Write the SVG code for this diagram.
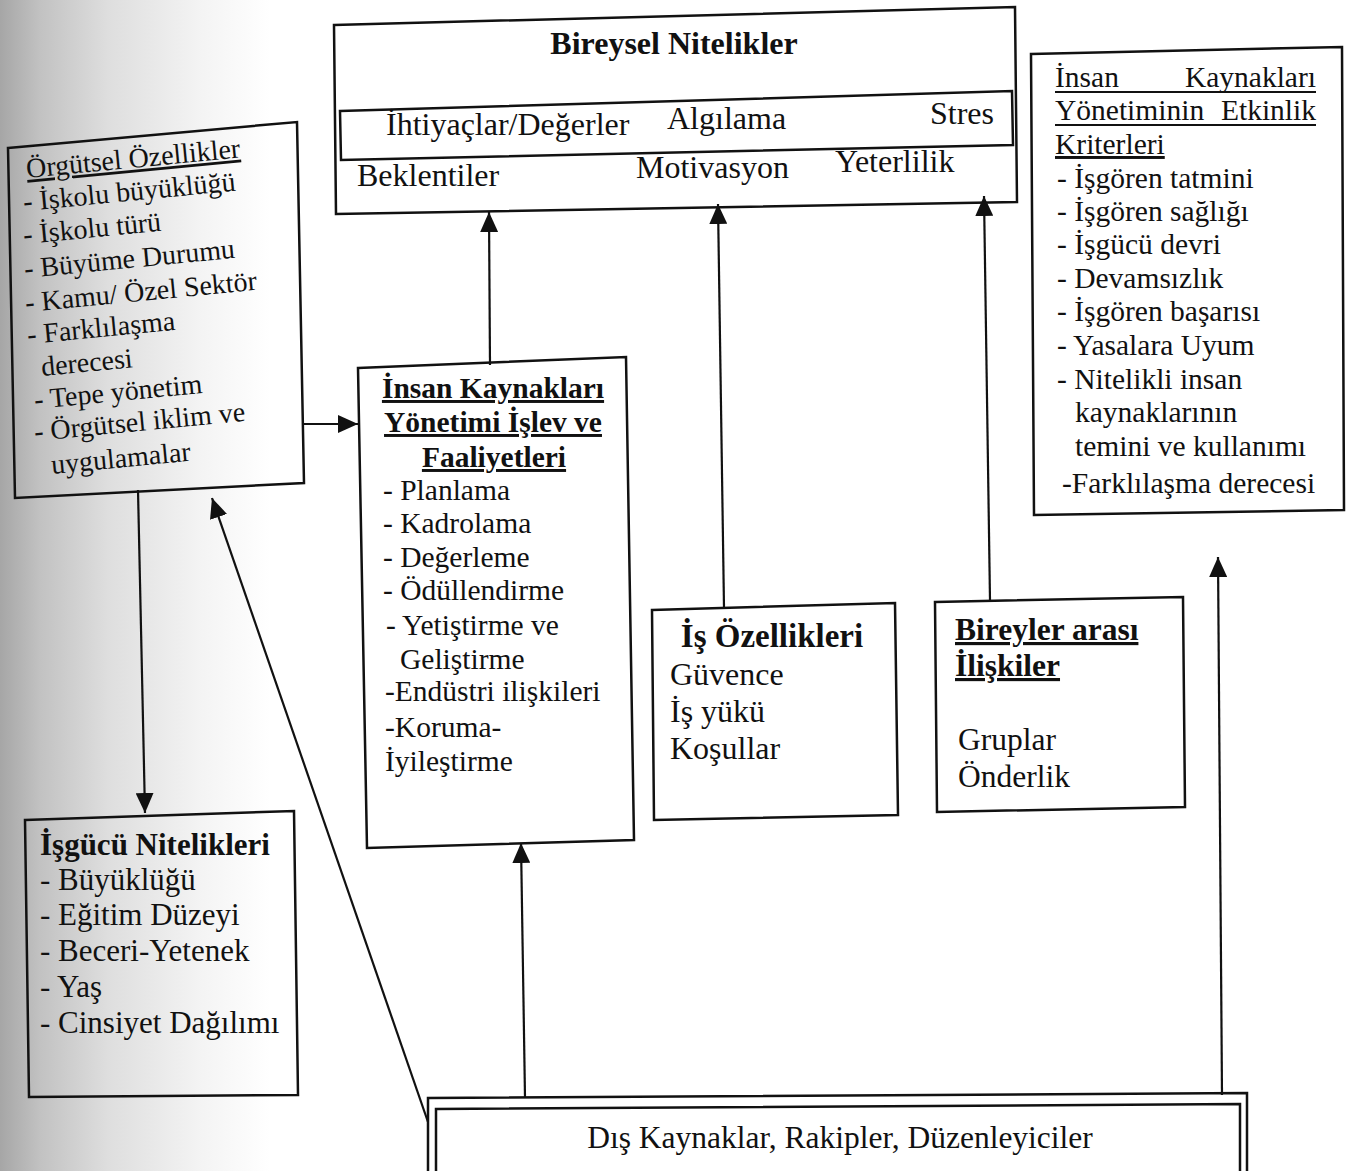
<svg xmlns="http://www.w3.org/2000/svg" width="1351" height="1171" viewBox="0 0 1351 1171">
<style>
text{font-family:"Liberation Serif","Times New Roman",serif;fill:#111}
.b{font-weight:bold}
.u{text-decoration:underline}
.box{fill:none;stroke:#111;stroke-width:2.5;stroke-linejoin:miter}
.con{stroke:#111;stroke-width:2.2;fill:none}
.ul{stroke:#111;stroke-width:2}
</style>
<defs>
<linearGradient id="bg" x1="0" y1="0" x2="1" y2="0">
<stop offset="0" stop-color="#a6a6a6"/>
<stop offset="0.03" stop-color="#c2c2c2"/>
<stop offset="0.08" stop-color="#dedede"/>
<stop offset="0.15" stop-color="#f4f4f4"/>
<stop offset="0.2" stop-color="#ffffff"/>
<stop offset="1" stop-color="#ffffff"/>
</linearGradient>
<marker id="ah" viewBox="0 0 20 18" markerUnits="userSpaceOnUse" markerWidth="20" markerHeight="18" refX="20" refY="9" orient="auto">
<path d="M0,0 L20,9 L0,18 z" fill="#111"/>
</marker>
</defs>
<rect x="0" y="0" width="1351" height="1171" fill="url(#bg)"/>

<g id="connectors">
<line class="con" x1="304" y1="424" x2="358" y2="424" marker-end="url(#ah)"/>
<line class="con" x1="138" y1="490" x2="145" y2="813" marker-end="url(#ah)"/>
<line class="con" x1="428" y1="1122" x2="212" y2="498" marker-end="url(#ah)"/>
<line class="con" x1="525" y1="1097" x2="521" y2="843" marker-end="url(#ah)"/>
<line class="con" x1="490" y1="365" x2="489" y2="212" marker-end="url(#ah)"/>
<line class="con" x1="724" y1="608" x2="718" y2="204" marker-end="url(#ah)"/>
<line class="con" x1="990" y1="600" x2="984" y2="196" marker-end="url(#ah)"/>
<line class="con" x1="1222" y1="1095" x2="1218" y2="557" marker-end="url(#ah)"/>
</g>

<g id="bireysel" font-size="32">
<polygon class="box" points="334,25 1015,7 1017,202 336,214"/>
<polygon class="box" points="340,111 1012,91 1013,145 341,160"/>
<text class="b" x="674" y="54" text-anchor="middle">Bireysel Nitelikler</text>
<text x="386" y="135">İhtiyaçlar/Değerler</text>
<text x="667" y="129">Algılama</text>
<text x="930" y="124">Stres</text>
<text x="357" y="186">Beklentiler</text>
<text x="636" y="178">Motivasyon</text>
<text x="835" y="172">Yeterlilik</text>
</g>

<g id="orgutsel" font-size="28">
<polygon class="box" points="8,148 297,122 304,483 15,498"/>
<text class="u" x="27" y="178" transform="rotate(-5.5 27 178)">Örgütsel Özellikler</text>
<text x="24" y="211" transform="rotate(-5.5 24 211)">- İşkolu büyüklüğü</text>
<text x="24" y="244" transform="rotate(-5.5 24 244)">- İşkolu türü</text>
<text x="25" y="278" transform="rotate(-5.5 25 278)">- Büyüme Durumu</text>
<text x="26" y="312" transform="rotate(-5.5 26 312)">- Kamu/ Özel Sektör</text>
<text x="28" y="344" transform="rotate(-5.5 28 344)">- Farklılaşma</text>
<text x="42" y="376" transform="rotate(-5.5 42 376)">derecesi</text>
<text x="35" y="409" transform="rotate(-5.5 35 409)">- Tepe yönetim</text>
<text x="35" y="441" transform="rotate(-5.5 35 441)">- Örgütsel iklim ve</text>
<text x="52" y="474" transform="rotate(-5.5 52 474)">uygulamalar</text>
</g>

<g id="ik-islev" font-size="29.5">
<polygon class="box" points="358,368 626,357 634,840 367,848"/>
<text class="b u" x="493" y="398" text-anchor="middle">İnsan Kaynakları</text>
<text class="b u" x="493" y="432" text-anchor="middle">Yönetimi İşlev ve</text>
<text class="b u" x="494" y="467" text-anchor="middle">Faaliyetleri</text>
<text x="383" y="500">- Planlama</text>
<text x="383" y="533">- Kadrolama</text>
<text x="383" y="567">- Değerleme</text>
<text x="383" y="600">- Ödüllendirme</text>
<text x="386" y="635">- Yetiştirme ve</text>
<text x="400" y="669">Geliştirme</text>
<text x="385" y="701">-Endüstri ilişkileri</text>
<text x="385" y="737">-Koruma-</text>
<text x="385" y="771">İyileştirme</text>
</g>

<g id="is-ozellikleri" font-size="32">
<polygon class="box" points="652,610 895,603 898,815 654,820"/>
<text class="b" x="772" y="647" text-anchor="middle" font-size="33">İş Özellikleri</text>
<text x="670" y="685">Güvence</text>
<text x="670" y="722">İş yükü</text>
<text x="670" y="759">Koşullar</text>
</g>

<g id="bireyler-arasi" font-size="31.5">
<polygon class="box" points="935,602 1183,597 1185,807 937,812"/>
<text class="b u" x="955" y="640">Bireyler arası</text>
<text class="b u" x="955" y="676">İlişkiler</text>
<text x="958" y="750">Gruplar</text>
<text x="958" y="787">Önderlik</text>
</g>

<g id="kriterler" font-size="29.5">
<polygon class="box" points="1031,54 1342,47 1344,510 1034,515"/>
<text x="1055" y="87">İnsan</text>
<text x="1316" y="87" text-anchor="end">Kaynakları</text>
<line class="ul" x1="1055" y1="92" x2="1316" y2="92"/>
<text x="1055" y="120">Yönetiminin</text>
<text x="1316" y="120" text-anchor="end">Etkinlik</text>
<line class="ul" x1="1055" y1="125" x2="1316" y2="125"/>
<text class="u" x="1055" y="154">Kriterleri</text>
<text x="1057" y="188">- İşgören tatmini</text>
<text x="1057" y="221">- İşgören sağlığı</text>
<text x="1057" y="254">- İşgücü devri</text>
<text x="1057" y="288">- Devamsızlık</text>
<text x="1057" y="321">- İşgören başarısı</text>
<text x="1057" y="355">- Yasalara Uyum</text>
<text x="1057" y="389">- Nitelikli insan</text>
<text x="1075" y="422">kaynaklarının</text>
<text x="1075" y="456">temini ve kullanımı</text>
<text x="1062" y="493">-Farklılaşma derecesi</text>
</g>

<g id="isgucu" font-size="31">
<polygon class="box" points="25,820 294,811 298,1095 29,1097"/>
<text class="b" x="40" y="855">İşgücü Nitelikleri</text>
<text x="40" y="890">- Büyüklüğü</text>
<text x="40" y="925">- Eğitim Düzeyi</text>
<text x="40" y="961">- Beceri-Yetenek</text>
<text x="40" y="997">- Yaş</text>
<text x="40" y="1033">- Cinsiyet Dağılımı</text>
</g>

<g id="dis-kaynaklar" font-size="31.5">
<polyline class="box" points="428,1175 428,1098 1247,1093 1247,1175"/>
<polyline class="box" points="436,1175 436,1109 1240,1104 1240,1175"/>
<text x="840" y="1148" text-anchor="middle">Dış Kaynaklar, Rakipler, Düzenleyiciler</text>
</g>
</svg>
